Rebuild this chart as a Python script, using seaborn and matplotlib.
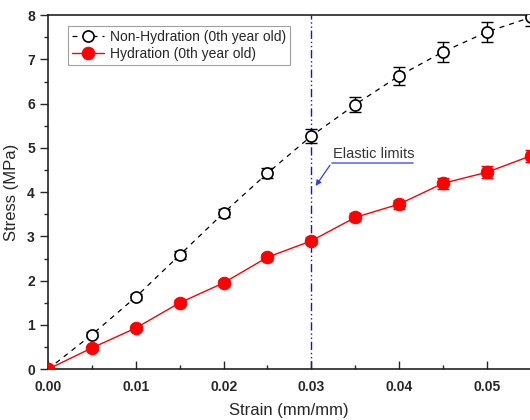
import matplotlib
matplotlib.use("Agg")
import matplotlib.pyplot as plt
import seaborn as sns
import pandas as pd

strain = [0.0, 0.005, 0.01, 0.015, 0.02, 0.025, 0.03, 0.035, 0.04, 0.045, 0.05, 0.055]
non_hydration = [0.0, 0.78, 1.63, 2.58, 3.53, 4.43, 5.27, 5.98, 6.63, 7.17, 7.62, 7.95]
non_hydration_err = [0.0, 0.05, 0.07, 0.08, 0.1, 0.12, 0.15, 0.18, 0.2, 0.22, 0.22, 0.2]
hydration = [0.0, 0.48, 0.93, 1.5, 1.95, 2.53, 2.9, 3.43, 3.73, 4.2, 4.45, 4.82]
hydration_err = [0.0, 0.04, 0.05, 0.06, 0.07, 0.08, 0.08, 0.09, 0.1, 0.12, 0.13, 0.14]
elastic_limit = 0.03

sns.set_style("ticks")
plt.rcParams['font.family'] = ['Liberation Sans', 'DejaVu Sans']

df = pd.DataFrame({'strain': strain, 'non': non_hydration, 'hyd': hydration})

fig = plt.figure(figsize=(5.3, 4.2), dpi=100)
ax = fig.add_axes([0.0906, 0.121, 0.9094, 0.843])

# Fehlerbalken
ax.errorbar(strain, non_hydration, yerr=non_hydration_err, fmt='none',
            ecolor='black', elinewidth=1, capsize=4, capthick=1, zorder=2)
ax.errorbar(strain, hydration, yerr=hydration_err, fmt='none',
            ecolor='red', elinewidth=1, capsize=4, capthick=1, zorder=2)

sns.lineplot(data=df, x='strain', y='non', ax=ax, color='black', linestyle=(0, (4, 4)),
             linewidth=0.9, marker='o', markersize=8, markerfacecolor='white',
             markeredgecolor='black', markeredgewidth=1.2,
             label='Non-Hydration (0th year old)', zorder=3)
sns.lineplot(data=df, x='strain', y='hyd', ax=ax, color='red', linewidth=1,
             marker='o', markersize=9, markerfacecolor='red', markeredgecolor='red',
             label='Hydration (0th year old)', zorder=3)

ax.axvline(elastic_limit, color='#1010ee', linestyle=(0, (6, 2, 1, 2, 1, 2)), linewidth=1, zorder=1)
ax.annotate('', xy=(0.0303, 4.09), xytext=(0.0323, 4.66),
            arrowprops=dict(arrowstyle='-|>', color='#3040f0', lw=0.9, mutation_scale=8))
ax.plot([0.0323, 0.0416], [4.66, 4.66], color='#6070f0', linewidth=1.2)
ax.text(0.0325, 4.70, 'Elastic limits', fontsize=10.5, color='#333333', ha='left', va='bottom')

ax.set_xlim(0, 0.0549)
ax.set_ylim(0, 8)
ax.set_xticks([0.0, 0.01, 0.02, 0.03, 0.04, 0.05])
ax.set_xticklabels(['0.00', '0.01', '0.02', '0.03', '0.04', '0.05'])
ax.set_xticks([0.005, 0.015, 0.025, 0.035, 0.045], minor=True)
ax.set_yticks(range(0, 9))
ax.set_yticks([0.5 + i for i in range(8)], minor=True)
ax.tick_params(axis='x', which='major', direction='in', length=6, width=1, labelsize=10, pad=8)
ax.tick_params(axis='x', which='minor', direction='in', length=3, width=1)
ax.tick_params(axis='y', which='major', direction='out', length=6, width=1, labelsize=10)
ax.tick_params(axis='y', which='minor', direction='out', length=3, width=1)
for lab in ax.get_xticklabels() + ax.get_yticklabels():
    lab.set_fontweight('bold')

ax.set_xlabel('Strain (mm/mm)', fontsize=12, labelpad=6)
ax.set_ylabel('Stress (MPa)', fontsize=12, labelpad=6)

for side in ['left', 'bottom', 'top']:
    ax.spines[side].set_visible(True)
    ax.spines[side].set_linewidth(1.2)
    ax.spines[side].set_color('#222222')
ax.spines['right'].set_visible(False)

leg = ax.legend(loc='upper left', bbox_to_anchor=(0.027, 0.99), fontsize=10,
                frameon=True, fancybox=False, edgecolor='#888888', borderpad=0.3,
                labelspacing=0.2, handlelength=2.3, handletextpad=0.4)
leg.get_frame().set_linewidth(0.8)

fig.savefig('out.png', dpi=100)
